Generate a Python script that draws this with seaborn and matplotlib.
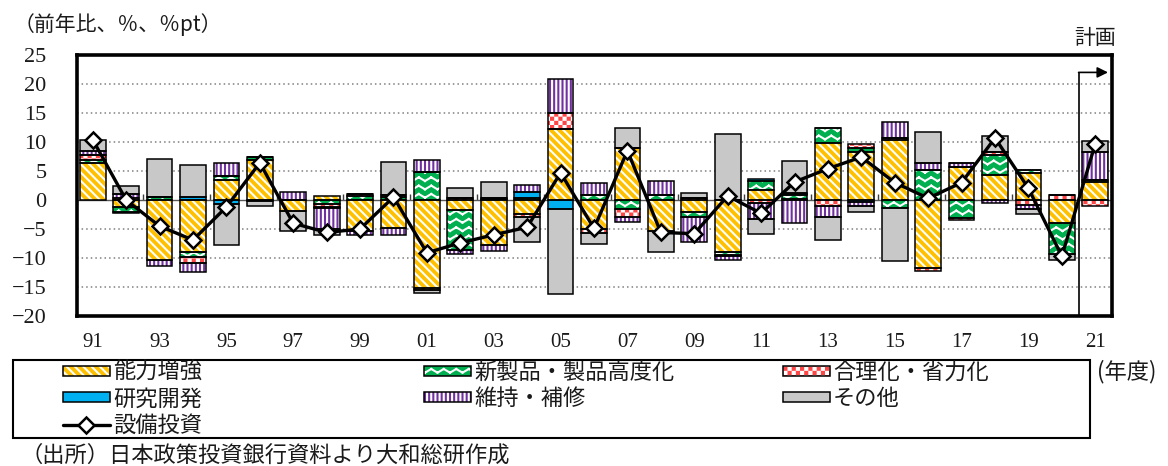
import warnings
import numpy as np
import matplotlib
matplotlib.use("Agg")
import matplotlib.pyplot as plt
import matplotlib.hatch as mhatch
from matplotlib.path import Path
from matplotlib.patches import Patch, Rectangle
from matplotlib.lines import Line2D
import seaborn as sns

warnings.filterwarnings("ignore")

# ---------------- data ----------------
years = [1991, 1992, 1993, 1994, 1995, 1996, 1997, 1998, 1999, 2000,
         2001, 2002, 2003, 2004, 2005, 2006, 2007, 2008, 2009, 2010,
         2011, 2012, 2013, 2014, 2015, 2016, 2017, 2018, 2019, 2020, 2021]
xtick_labels = ["91", "93", "95", "97", "99", "01", "03", "05",
                "07", "09", "11", "13", "15", "17", "19", "21"]

capacity = [6.3, -1.2, -10.3, -9.0, 3.5, 6.9, -1.9, 0.7, -5.4, -4.9,
            -15.1, -1.7, -7.7, -2.4, 12.2, -5.0, 9.0, -5.3, -2.0, -8.9,
            1.7, 0.1, 9.8, 8.3, 10.3, -11.7, 5.7, 4.3, 4.6, -3.9, 3.1]
new_product = [0.6, -0.8, 0.6, -0.9, 0.6, 0.5, 0.0, -0.7, 0.7, 0.5,
               4.9, -6.9, 0.2, 0.4, 0.0, 0.8, -1.5, 0.8, -0.9, -0.5,
               1.5, 0.8, 2.6, 0.6, -1.3, 5.1, -3.1, 3.5, 0.5, -5.4, 0.4]
rationalization = [0.8, 0.4, 0.0, -1.0, 0.0, 0.0, 0.0, -0.5, 0.3, 0.3,
                   -0.5, 0.3, 0.1, -0.6, 2.8, -0.7, -1.4, 0.0, 0.4, 0.0,
                   -0.5, 0.2, -1.0, 0.8, 0.4, -0.5, -0.4, 0.5, -0.9, 0.8, -1.0]
research = [0.1, -0.3, 0.0, 0.5, -0.7, -0.2, 0.0, -0.1, 0.0, 0.0,
            0.0, 0.0, 0.0, 0.9, -1.6, 0.0, 0.0, 0.0, 0.0, -0.2,
            0.4, 0.1, 0.0, -0.4, 0.0, 0.0, 0.0, 0.0, 0.0, 0.0, 0.0]
maintenance = [0.6, 0.7, -1.1, -1.5, 2.3, 0.0, 1.3, -3.7, -0.7, -1.1,
               2.0, -0.7, -1.1, 1.2, 5.9, 2.2, -0.9, 2.5, -4.3, -0.7,
               -2.7, -3.9, -1.9, -0.6, 2.8, 1.2, 0.7, -0.6, -0.7, 0.0, 4.7]
others = [2.0, 1.3, 6.4, 5.5, -7.1, -0.9, -3.5, -1.1, 0.1, 5.8,
          -0.5, 1.7, 2.8, -4.3, -14.6, -1.9, 3.5, -3.7, 0.8, 11.3,
          -2.6, 5.6, -4.0, -1.0, -9.2, 5.4, 0.0, 2.7, -0.8, -1.1, 1.9]
capex = [10.4, 0.0, -4.5, -6.9, -1.2, 6.4, -4.0, -5.6, -5.0, 0.5,
         -9.1, -7.4, -6.0, -4.7, 4.7, -4.9, 8.5, -5.6, -5.8, 0.7,
         -2.3, 3.1, 5.4, 7.4, 3.0, 0.3, 3.0, 10.7, 2.0, -9.7, 9.7]

series_names = ["能力増強", "新製品・製品高度化", "合理化・省力化",
                "研究開発", "維持・補修", "その他"]
line_name = "設備投資"
yticks = [-20, -15, -10, -5, 0, 5, 10, 15, 20, 25]
plan_level = 22

# ---------------- custom hatches (wave / checker) ----------------
class WaveHatch(mhatch.HatchPatternBase):
    def __init__(self, hatch, density):
        self.num_lines = int(hatch.count('z') * density)
        self.n_seg = 16
        self.num_vertices = self.num_lines * self.n_seg * 2

    def set_vertices_and_codes(self, vertices, codes):
        step = 1.0 / self.num_lines
        xs = np.linspace(0.0, 1.0, self.n_seg + 1)
        amp = 0.22 * step
        offs = np.where(np.arange(self.n_seg + 1) % 2 == 0, -amp, amp)
        k = 0
        for i in range(self.num_lines):
            y0 = (i + 0.5) * step
            for j in range(self.n_seg):
                vertices[k] = (xs[j], y0 + offs[j])
                vertices[k + 1] = (xs[j + 1], y0 + offs[j + 1])
                codes[k] = Path.MOVETO
                codes[k + 1] = Path.LINETO
                k += 2


class CheckerHatch(mhatch.HatchPatternBase):
    def __init__(self, hatch, density):
        n = int(hatch.count('k') * density)
        self.n = n
        self.cells = [(i, j) for i in range(n) for j in range(n)
                      if (i + j) % 2 == 0] if n > 0 else []
        self.num_vertices = len(self.cells) * 5

    def set_vertices_and_codes(self, vertices, codes):
        c = 1.0 / self.n
        h = c * 0.25
        k = 0
        for i, j in self.cells:
            cx, cy = (i + 0.5) * c, (j + 0.5) * c
            vertices[k:k + 5] = [(cx - h, cy - h), (cx + h, cy - h),
                                 (cx + h, cy + h), (cx - h, cy + h),
                                 (cx - h, cy - h)]
            codes[k] = Path.MOVETO
            codes[k + 1:k + 4] = Path.LINETO
            codes[k + 4] = Path.CLOSEPOLY
            k += 5


def custom_hatch_ok():
    try:
        mhatch._validate_hatch_pattern("zk")
        return True
    except Exception:
        return False


if custom_hatch_ok():
    mhatch._hatch_types.append(WaveHatch)
    mhatch._hatch_types.append(CheckerHatch)
    wave_h, check_h = "zz", "kkkk"
else:
    wave_h, check_h = "--", "+++"

colors = ["#FFC000", "#00B050", "#FF4646", "#00B0F0", "#7030A0", "#C8C8C8"]
hatches = ["\\\\\\\\", wave_h, check_h, None, "||||", None]

# ---------------- style ----------------
sns.set_theme(style="white")
plt.rcParams["font.family"] = ["Noto Sans CJK JP", "DejaVu Sans"]
plt.rcParams["text.color"] = "#1a1a1a"
plt.rcParams["hatch.linewidth"] = 1.5
plt.rcParams["axes.unicode_minus"] = True

W, H = 1168, 466
fig = plt.figure(figsize=(W / 100, H / 100), dpi=100)
ax = fig.add_axes([77 / W, 1 - 316 / H, (1112 - 77) / W, (316 - 55) / H])

# ---------------- stacked bars ----------------
series_vals = [capacity, new_product, rationalization, research, maintenance, others]
n = len(years)
pos_base = np.zeros(n)
neg_base = np.zeros(n)
bar_w = 0.77
for vals, col, hat in zip(series_vals, colors, hatches):
    v = np.asarray(vals, dtype=float)
    bottom = np.where(v >= 0, pos_base, neg_base)
    sns.barplot(x=years, y=v, bottom=bottom, native_scale=True, orient="x",
                width=bar_w, color=col, saturation=1, hatch=hat,
                edgecolor="white", linewidth=0, errorbar=None, ax=ax,
                zorder=2)
    sns.barplot(x=years, y=v, bottom=bottom, native_scale=True, orient="x",
                width=bar_w, fill=False, color="black", linewidth=1.1,
                errorbar=None, ax=ax, zorder=2.1)
    pos_base += np.where(v >= 0, v, 0)
    neg_base += np.where(v < 0, v, 0)

# ---------------- line ----------------
sns.lineplot(x=years, y=capex, color="black", linewidth=2.4, marker="D",
             markersize=8, markerfacecolor="white", markeredgecolor="black",
             markeredgewidth=1.8, errorbar=None, ax=ax, zorder=5, legend=False)

# ---------------- axes ----------------
ylo, yhi = yticks[0], yticks[-1]
ax.set_ylim(ylo, yhi)
ax.set_xlim(years[0] - 0.47, years[-1] + 0.5)
ax.set_yticks(yticks)
ax.set_xticks(years[::2])
ax.set_xticklabels(xtick_labels)
ax.set_xlabel("")
ax.set_ylabel("")
ax.tick_params(axis="y", length=0, pad=22, labelsize=16, labelcolor="#1a1a1a",
               labelfontfamily="Liberation Serif")
ax.tick_params(axis="x", length=0, pad=12, labelsize=15, labelcolor="#1a1a1a",
               labelfontfamily="Liberation Serif")

ax.grid(False)
for yv in yticks:
    if yv not in (ylo, yhi, 0):
        ax.axhline(yv, color="#808080", lw=1.1, ls=(0, (1, 2)), zorder=0.5)

for sp in ax.spines.values():
    sp.set_visible(True)
    sp.set_color("black")
    sp.set_linewidth(2.6)

# zero axis with small tick marks between categories
zero_loc = (0 - ylo) / (yhi - ylo)
sec = ax.secondary_xaxis(zero_loc)
sec.set_xticks([y + 0.5 for y in years[1:-1:2]])
sec.tick_params(axis="x", direction="in", length=4, width=1, color="#404040",
                labelbottom=False, labeltop=False)
for name, sp in sec.spines.items():
    sp.set_visible(name == "bottom")
sec.spines["bottom"].set_color("#595959")
sec.spines["bottom"].set_linewidth(1.0)

# plan marker (2021)
plan_x = (years[-2] + years[-1]) / 2
ax.vlines(plan_x, ylo, plan_level, color="black", lw=1.2, zorder=4)
ax.annotate("", xy=(years[-1] + 0.38, plan_level), xytext=(plan_x, plan_level),
            arrowprops=dict(arrowstyle="-|>", color="black", lw=1.2,
                            mutation_scale=16, shrinkA=0, shrinkB=0),
            zorder=4)
ax.annotate("計画", xy=(years[-1], 1), xycoords=("data", "axes fraction"),
            xytext=(0, 12), textcoords="offset points", ha="center",
            va="center", fontsize=15, annotation_clip=False)

# ---------------- texts ----------------
fig.text(14 / W, 1 - 25 / H, "（前年比、％、％pt）", fontsize=15,
         ha="left", va="center")
fig.text(1097 / W, 1 - 372 / H, "(年度)", fontsize=16, ha="left", va="center")
fig.text(20 / W, 1 - 455 / H, "（出所）日本政策投資銀行資料より大和総研作成",
         fontsize=16, ha="left", va="center")

# ---------------- legend ----------------
fig.add_artist(Rectangle((13 / W, 1 - 438 / H), 1077 / W, 78 / H,
                         transform=fig.transFigure, fill=False,
                         edgecolor="black", lw=1.5))


def patch_handle(col, hat):
    return (Patch(facecolor=col, hatch=hat, edgecolor="white", linewidth=0),
            Patch(facecolor="none", edgecolor="black", linewidth=1.1))


ph = [patch_handle(c, h) for c, h in zip(colors, hatches)]
lh = Line2D([], [], color="black", lw=2.4, marker="D", ms=8,
            mfc="white", mec="black", mew=1.8)

columns = [
    ([ph[0], ph[3], lh], [series_names[0], series_names[3], line_name], 63),
    ([ph[1], ph[4]], [series_names[1], series_names[4]], 424),
    ([ph[2], ph[5]], [series_names[2], series_names[5]], 783),
]
for hs, ls, xpx in columns:
    leg = fig.legend(hs, ls, loc="upper left",
                     bbox_to_anchor=(xpx / W, 1 - 361 / H),
                     frameon=False, fontsize=16, borderpad=0,
                     borderaxespad=0, handlelength=2.1, handleheight=0.32,
                     handletextpad=0.15, labelspacing=0.15, numpoints=1)

fig.savefig("out.png", dpi=100)
